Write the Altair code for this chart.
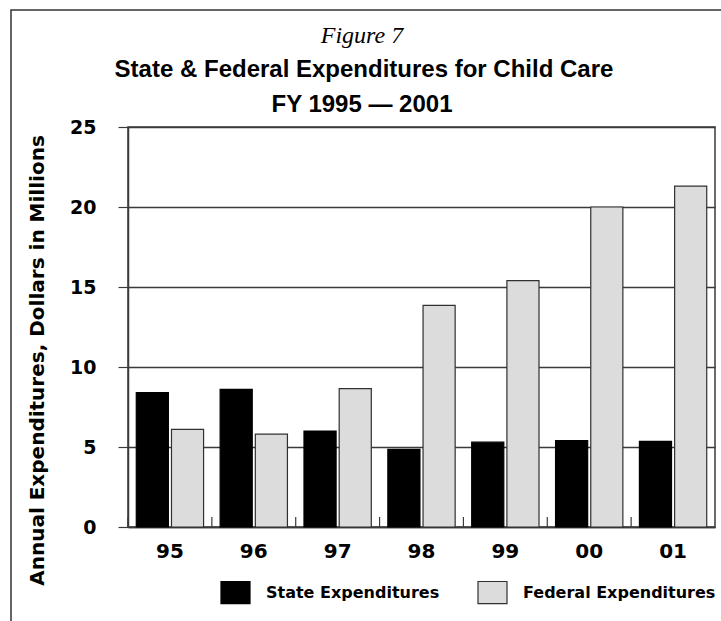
import altair as alt
import pandas as pd

years = ["95", "96", "97", "98", "99", "00", "01"]
state = [8.4, 8.6, 6.0, 4.85, 5.3, 5.4, 5.35]
federal = [6.1, 5.8, 8.65, 13.85, 15.4, 20.0, 21.3]
series_names = ["State Expenditures", "Federal Expenditures"]
y_ticks = [0, 5, 10, 15, 20, 25]
title_fig = "Figure 7"
title_main = "State & Federal Expenditures for Child Care"
title_sub = "FY 1995 \u2014 2001"
y_title = "Annual Expenditures, Dollars in Millions"

rows = []
for i, yr in enumerate(years):
    rows.append({"year": yr, "series": series_names[0], "value": state[i]})
    rows.append({"year": yr, "series": series_names[1], "value": federal[i]})
df = pd.DataFrame(rows)
yr_df = pd.DataFrame({"year": years})

FONT = "DejaVu Sans"
GRID = "#3a3a3a"

x_enc = alt.X("year:N", sort=years,
              scale=alt.Scale(paddingInner=0, paddingOuter=0),
              axis=alt.Axis(title=None, ticks=False, labelAngle=0,
                            labelFont=FONT, labelFontWeight="bold",
                            labelFontSize=20, labelColor="black",
                            labelPadding=14, domainColor=GRID,
                            domainWidth=1.5, grid=False))

bars = alt.Chart(df).mark_bar(strokeWidth=1.2).encode(
    x=x_enc,
    xOffset=alt.XOffset("series:N", sort=series_names,
                        scale=alt.Scale(paddingInner=0.088, paddingOuter=0.235)),
    y=alt.Y("value:Q",
            scale=alt.Scale(domain=[0, 25], nice=False),
            axis=alt.Axis(values=y_ticks, title=y_title, grid=True,
                          gridColor=GRID, gridWidth=1.5,
                          tickSize=10, tickColor=GRID, tickWidth=1.2,
                          domainColor=GRID, domainWidth=1.5,
                          labelFont=FONT, labelFontWeight="bold",
                          labelFontSize=19, labelColor="black",
                          labelPadding=22,
                          titleFont=FONT, titleFontWeight="bold",
                          titleFontSize=20, titleColor="black",
                          titleX=-85, titleY=233, titleAngle=-90,
                          titleAlign="center", titleBaseline="alphabetic")),
    color=alt.Color("series:N", sort=series_names,
                    scale=alt.Scale(domain=series_names, range=["#000000", "#dcdcdc"]),
                    legend=alt.Legend(title=None, orient="none", legendX=92, legendY=450,
                                      direction="horizontal", padding=0,
                                      labelFont=FONT, labelFontWeight="bold",
                                      labelFontSize=16, labelColor="black",
                                      labelLimit=0,
                                      labelOffset=15, columnPadding=35,
                                      symbolType="M-1,-0.76H1V0.76H-1Z",
                                      symbolSize=841, symbolStrokeWidth=1.2,
                                      symbolOpacity=1)),
    stroke=alt.Stroke("series:N", sort=series_names,
                      scale=alt.Scale(domain=series_names, range=["#000000", "#303030"]),
                      legend=None),
)

ticks = alt.Chart(yr_df).mark_rule(color=GRID, strokeWidth=1.2).encode(
    x=alt.X("year:N", sort=years, bandPosition=0),
    y=alt.value(390),
    y2=alt.value(400),
)

frame = alt.Chart(alt.Data(values=[{"f": 1}])).mark_rect(
    filled=False, stroke="#333333", strokeWidth=1.5
).encode(
    x=alt.value(-117), x2=alt.value(700),
    y=alt.value(-117), y2=alt.value(600),
)

t1 = alt.Chart(alt.Data(values=[{"t": title_fig}])).mark_text(
    font="Liberation Serif", fontStyle="italic", fontSize=24,
    align="center", baseline="alphabetic", color="black"
).encode(text="t:N", x=alt.value(234), y=alt.value(-84))

t2 = alt.Chart(alt.Data(values=[{"t": title_main}])).mark_text(
    font="Liberation Sans", fontWeight="bold", fontSize=24,
    align="center", baseline="alphabetic", color="black"
).encode(text="t:N", x=alt.value(236), y=alt.value(-50))

t3 = alt.Chart(alt.Data(values=[{"t": title_sub}])).mark_text(
    font="Liberation Sans", fontWeight="bold", fontSize=24,
    align="center", baseline="alphabetic", color="black"
).encode(text="t:N", x=alt.value(234), y=alt.value(-15))

chart = alt.layer(frame, bars, ticks, t1, t2, t3).properties(
    width=587, height=400,
    autosize=alt.AutoSizeParams(type="none"),
    padding={"left": 128, "top": 127, "right": 6, "bottom": 94},
    background="white",
).configure_view(stroke=GRID, strokeWidth=1.5)

chart.save("out.html", embed_options={"renderer": "svg", "actions": False})
